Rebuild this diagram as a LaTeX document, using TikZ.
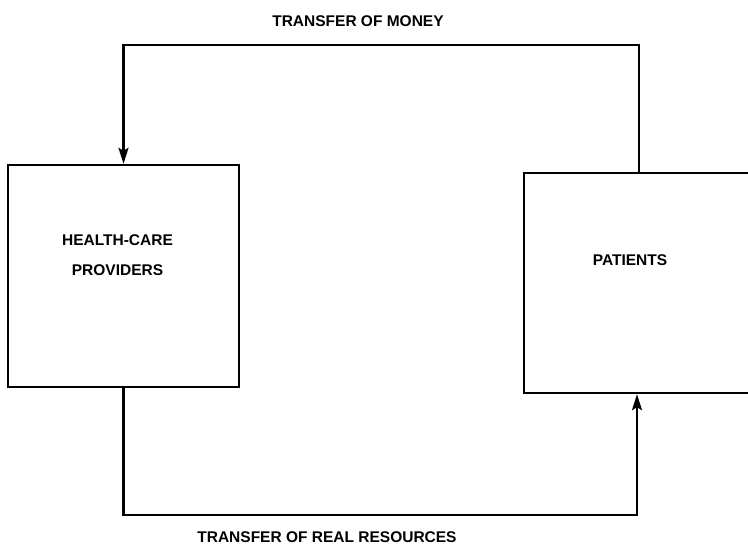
\documentclass[tikz,border=0pt]{standalone}
\usepackage{fontspec}
\setmainfont{Liberation Sans}
\usetikzlibrary{arrows.meta}
\begin{document}
\begin{tikzpicture}[x=1pt, y=1pt, line width=2.4pt,
        font=\fontsize{15.5}{30}\selectfont\bfseries,
        box/.style = {draw, rectangle, minimum height=222pt},
        flow/.style = {-{Stealth[length=16pt, width=10pt, inset=3pt]}}]
                \useasboundingbox (0,0) rectangle (748,548);
                \clip (0,0) rectangle (748,548);
                \node[box, minimum width=231pt, label={[xshift=-6pt, yshift=21pt, align=center]center:HEALTH-CARE\\PROVIDERS}] (providers) at (123.5,272) {};
                \node[box, minimum width=240pt, minimum height=220pt, label={[xshift=-14pt, yshift=23pt]center:PATIENTS}] (patients) at (644,265) {};
                \coordinate (money) at (380,503);
                \coordinate (real) at (380,33);
                \node (moneylbl) at (358,527) {TRANSFER OF MONEY};
                \node (reallbl) at (327,11) {TRANSFER OF REAL RESOURCES};
                \draw[flow] ([xshift=-5pt]patients.north) |- (money) -| (providers.north);
                \draw[flow] (providers.south) |- (real) -| ([xshift=-7pt]patients.south);
            \end{tikzpicture}
\end{document}
